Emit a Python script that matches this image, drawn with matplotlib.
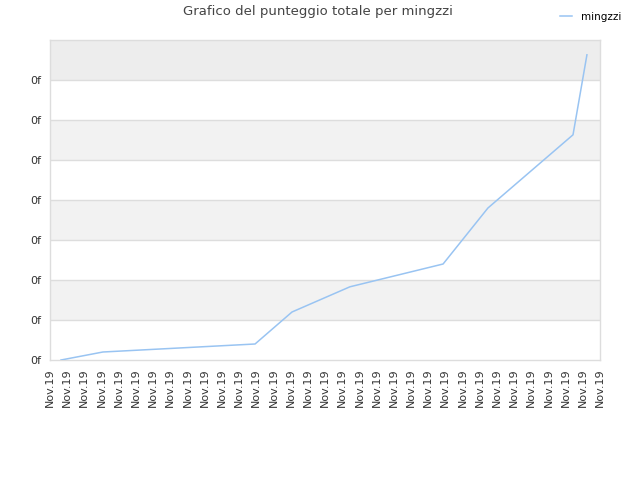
import matplotlib
matplotlib.use("Agg")
import matplotlib.pyplot as plt
import numpy as np

# data
x_vals = [0.64, 3.08, 11.93, 14.08, 17.45, 22.87, 25.48, 30.43, 31.24]
y_vals = [0.0, 0.2, 0.4, 1.2, 1.83, 2.4, 3.8, 5.63, 7.63]
x_ticks = list(range(33))
x_labels = ["Nov.19"] * 33
y_ticks = list(range(8))
y_labels = ["0f"] * 8
series_name = "mingzzi"
title = "Grafico del punteggio totale per mingzzi"

fig = plt.figure(figsize=(6.4, 4.8), dpi=100)
ax = fig.add_axes([50/640, 120/480, 550/640, 320/480])
ax.set_xlim(0, 32)
ax.set_ylim(0, 8)

# alternating bands
for i in range(8):
    if i == 7:
        c = "#ededed"
    elif i % 2 == 1:
        c = "#f2f2f2"
    else:
        c = "#ffffff"
    ax.axhspan(i, i + 1, color=c, zorder=0, lw=0)
for i in range(1, 8):
    ax.axhline(i, color="#dddddd", lw=1, zorder=1)

ax.plot(x_vals, y_vals, color="#99c4f2", lw=1.1, zorder=3, label=series_name)

ax.set_xticks(x_ticks)
ax.set_xticklabels(x_labels, rotation=90, fontsize=8, color="#333333")
ax.set_yticks(y_ticks)
ax.set_yticklabels(y_labels, fontsize=8, color="#333333")
ax.tick_params(axis="both", length=0, pad=6)
for s in ax.spines.values():
    s.set_color("#dddddd")
    s.set_linewidth(1)

fig.text(0.497, 0.975, title, ha="center", va="center", fontsize=9.5, color="#444444")
leg = fig.legend(loc="upper right", bbox_to_anchor=(0.985, 0.995), frameon=False,
                 fontsize=7.5, handlelength=1.2, handletextpad=0.8)

fig.savefig("out.png", dpi=100)
